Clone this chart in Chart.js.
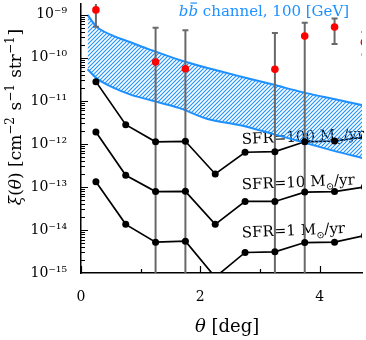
<!DOCTYPE html>
<html>
<head>
<meta charset="utf-8">
<script src="https://cdn.jsdelivr.net/npm/chart.js@4.4.0/dist/chart.umd.min.js"></script>
<style>
html, body { margin: 0; padding: 0; background: #fff; overflow: hidden; }
#wrap { width: 366px; height: 340px; position: relative; }
</style>
</head>
<body>
<div id="wrap"><canvas id="chart"></canvas></div>
<script>
const BLUE = "rgb(30,144,255)";
const GREY = "rgb(105,105,105)";

// model curves, one point every 0.5 deg
const THETA = [0.25, 0.75, 1.25, 1.75, 2.25, 2.75, 3.25, 3.75, 4.25, 4.75];
const SFR_100 = [2.8e-11, 2.8e-12, 1.12e-12, 1.15e-12, 2.0e-13, 6.4e-13, 6.6e-13, 1.12e-12, 1.17e-12, 1.45e-12];
const SFR_10 = [1.9e-12, 1.86e-13, 7.8e-14, 7.9e-14, 1.35e-14, 4.6e-14, 4.6e-14, 7.6e-14, 7.8e-14, 1.0e-13];
const SFR_1 = [1.32e-13, 1.35e-14, 5.2e-15, 5.5e-15, 8.0e-16, 3.0e-15, 3.1e-15, 5.1e-15, 5.2e-15, 7.4e-15];

// measured points with error bars (lower end off the plot where it runs to the axis)
const DATA_THETA = [0.25, 1.25, 1.75, 3.25, 3.75, 4.25, 4.75];
const DATA_XI = [1.3e-9, 8.0e-11, 5.6e-11, 5.4e-11, 3.2e-10, 5.2e-10, 2.3e-10];
const DATA_XI_HI = [5e-9, 5.0e-10, 4.4e-10, 3.8e-10, 6.5e-10, 8.2e-10, 4.0e-10];
const DATA_XI_LO = [5.3e-10, 1e-16, 1e-16, 1e-16, 1e-16, 2.1e-10, 1.2e-10];

// bb channel band, 100 GeV
const BAND_THETA = [0.11, 0.28, 0.55, 0.83, 1.10, 1.65, 2.12, 2.67, 3.22, 3.69, 4.24, 4.74];
const BAND_HI = [1.0e-9, 5.0e-10, 3.2e-10, 2.3e-10, 1.66e-10, 8.9e-11, 5.8e-11, 3.7e-11, 2.4e-11, 1.62e-11, 1.1e-11, 7.8e-12];
const BAND_LO = [5.4e-11, 3.2e-11, 2.0e-11, 1.4e-11, 1.1e-11, 6.8e-12, 3.8e-12, 2.7e-12, 1.7e-12, 1.12e-12, 6.9e-13, 4.6e-13];

// axes
const X_MIN = 0, X_MAX = 4.71;
const Y_MIN = 1e-15, Y_MAX = 1.784e-9;
const X_MAJOR = [0, 2, 4];
const X_MINOR = [1, 3];
const Y_EXPONENTS = [-15, -14, -13, -12, -11, -10, -9];

// labels placed in data coordinates
const SFR_LABELS = [
    { text: "SFR=100 ", theta: 2.7, xi: 1.0e-12 },
    { text: "SFR=10 ", theta: 2.7, xi: 8.8e-14 },
    { text: "SFR=1 ", theta: 2.7, xi: 6.7e-15 },
];

const FONT = '"DejaVu Serif"';
const SUP = { "-": "\u207B", "0": "\u2070", "1": "\u00B9", "2": "\u00B2", "3": "\u00B3", "4": "\u2074",
    "5": "\u2075", "6": "\u2076", "7": "\u2077", "8": "\u2078", "9": "\u2079" };

function toSup(s) {
    return s.split("").map(c => SUP[c]).join("");
}

function xy(arrX, arrY) {
    return arrX.map((x, i) => ({ x: x, y: arrY[i] }));
}

// draw a run of text pieces (italic / superscript / subscript) at x,y rotated by angle
function drawRuns(ctx, x, y, runs, size, angle, color, align) {
    const pieces = runs.map(r => {
        const s = (r.sup || r.sub) ? Math.round(size * 0.68) : size;
        const font = (r.it ? "italic " : "") + s + "px " + FONT;
        ctx.font = font;
        return { r: r, s: s, font: font, w: ctx.measureText(r.t).width + (r.gap || 0) };
    });
    const total = pieces.reduce((a, p) => a + p.w, 0);
    ctx.save();
    ctx.translate(x, y);
    ctx.rotate(angle);
    ctx.fillStyle = color;
    ctx.textBaseline = "alphabetic";
    ctx.textAlign = "left";
    let cx = align === "center" ? -total / 2 : 0;
    pieces.forEach(p => {
        ctx.font = p.font;
        const dy = p.r.sup ? -size * 0.42 : p.r.sub ? size * 0.28 : 0;
        ctx.fillText(p.r.t, cx, dy);
        if (p.r.bar) {
            ctx.fillRect(cx + 2, dy - p.s * 0.9, p.w - 3, 1.2);
        }
        cx += p.w;
    });
    ctx.restore();
}

const BAND_INDEX = 1;

const errorBars = {
    id: "errorBars",
    afterDatasetDraw(chart, args) {
        // drawn right after the band, below the black points and red points
        if (args.index !== BAND_INDEX) return;
        const { ctx, chartArea: a, scales: { x, y } } = chart;
        ctx.save();
        ctx.beginPath();
        ctx.rect(a.left, a.top, a.width, a.height);
        ctx.clip();
        ctx.strokeStyle = GREY;
        ctx.lineWidth = 2;
        DATA_THETA.forEach((t, i) => {
            const px = x.getPixelForValue(t);
            const top = y.getPixelForValue(DATA_XI_HI[i]);
            const bot = y.getPixelForValue(DATA_XI_LO[i]);
            ctx.beginPath();
            ctx.moveTo(px, top); ctx.lineTo(px, bot);
            ctx.moveTo(px - 3, top); ctx.lineTo(px + 3, top);
            ctx.moveTo(px - 3, bot); ctx.lineTo(px + 3, bot);
            ctx.stroke();
        });
        ctx.restore();
    }
};

const annotations = {
    id: "annotations",
    beforeDatasetsDraw(chart) {
        const { ctx, scales: { x, y } } = chart;
        const angle = -2.5 * Math.PI / 180;
        SFR_LABELS.forEach(l => {
            drawRuns(ctx, x.getPixelForValue(l.theta), y.getPixelForValue(l.xi), [
                { t: l.text }, { t: "M" }, { t: "\u2299", sub: 1 }, { t: "/yr" }
            ], 15, angle, "#000");
        });
    },
    afterDraw(chart) {
        const { ctx, chartArea: a, scales: { x, y } } = chart;
        drawRuns(ctx, x.getPixelForValue(1.64), y.getPixelForValue(9.4e-10), [
            { t: "b", it: 1 }, { t: "b", it: 1, bar: 1 }, { t: " channel, 100 [GeV]" }
        ], 15, 0, BLUE);

        // axis titles
        drawRuns(ctx, x.getPixelForValue(2.45), 332, [
            { t: "\u03B8", it: 1 }, { t: " [deg]" }
        ], 18, 0, "#000", "center");
        drawRuns(ctx, 21, 117, [
            { t: "\u03BE", it: 1 }, { t: "(" }, { t: "\u03B8", it: 1 }, { t: ") [cm" },
            { t: "\u22122", sup: 1, gap: 1 }, { t: " s" }, { t: "\u22121", sup: 1, gap: 1 },
            { t: " str" }, { t: "\u22121", sup: 1, gap: 1 }, { t: "]" }
        ], 17, -Math.PI / 2, "#000", "center");

        // inward tick marks
        ctx.save();
        ctx.strokeStyle = "#000";
        ctx.lineWidth = 1.2;
        ctx.beginPath();
        Y_EXPONENTS.forEach(e => {
            for (let m = 1; m <= 9; m++) {
                const py = Math.round(y.getPixelForValue(m * Math.pow(10, e))) + 0.5;
                if (py < a.top || py > a.bottom) continue;
                ctx.moveTo(a.left, py);
                ctx.lineTo(a.left + (m === 1 ? 7 : 4), py);
            }
        });
        X_MAJOR.concat(X_MINOR).forEach(v => {
            const px = Math.round(x.getPixelForValue(v)) + 0.5;
            ctx.moveTo(px, a.bottom);
            ctx.lineTo(px, a.bottom - (X_MAJOR.includes(v) ? 7 : 4));
        });
        ctx.stroke();
        ctx.restore();
    }
};

// "/" hatching, a thin diagonal every 4 px
function makeHatch(canvas) {
    const s = 4;
    const c = document.createElement("canvas");
    c.width = s; c.height = s;
    const g = c.getContext("2d");
    g.strokeStyle = BLUE;
    g.lineWidth = 1.1;
    g.beginPath();
    g.moveTo(0, s); g.lineTo(s, 0);
    g.moveTo(-1, 1); g.lineTo(1, -1);
    g.moveTo(s - 1, s + 1); g.lineTo(s + 1, s - 1);
    g.stroke();
    return canvas.getContext("2d").createPattern(c, "repeat");
}

Chart.defaults.font.family = FONT;
Chart.defaults.color = "#000";

const canvas = document.getElementById("chart");

function curveLine(values) {
    return {
        data: xy(THETA, values),
        borderColor: "#000",
        backgroundColor: "#000",
        borderWidth: 1.7,
        pointRadius: 0,
        tension: 0,
        fill: false,
        order: 5,
        clip: 0
    };
}

function curvePoints(values) {
    return {
        data: xy(THETA, values),
        showLine: false,
        backgroundColor: "#000",
        borderColor: "#000",
        pointRadius: 3.5,
        pointBorderWidth: 0,
        fill: false,
        order: 1,
        clip: 0
    };
}

// higher order is painted first:
// black lines, band, error bars, black points, red points
const chart = new Chart(canvas, {
    type: "line",
    data: {
        datasets: [
            {
                data: xy(DATA_THETA, DATA_XI),
                showLine: false,
                backgroundColor: "rgb(255,0,0)",
                borderColor: "rgb(255,0,0)",
                pointRadius: 3.8,
                pointBorderWidth: 0,
                fill: false,
                order: 0,
                clip: 0
            },
            {
                data: xy(BAND_THETA, BAND_HI),
                borderColor: BLUE,
                borderWidth: 2,
                backgroundColor: makeHatch(canvas),
                fill: "+1",
                pointRadius: 0,
                tension: 0.3,
                order: 3,
                clip: 0
            },
            {
                data: xy(BAND_THETA, BAND_LO),
                borderColor: BLUE,
                borderWidth: 2,
                fill: false,
                pointRadius: 0,
                tension: 0.3,
                order: 4,
                clip: 0
            },
            curvePoints(SFR_100),
            curvePoints(SFR_10),
            curvePoints(SFR_1),
            curveLine(SFR_100),
            curveLine(SFR_10),
            curveLine(SFR_1)
        ]
    },
    options: {
        responsive: true,
        maintainAspectRatio: false,
        devicePixelRatio: 1,
        animation: false,
        layout: { padding: 0 },
        plugins: {
            legend: { display: false },
            tooltip: { enabled: false }
        },
        scales: {
            x: {
                type: "linear",
                min: X_MIN,
                max: X_MAX,
                grid: { display: false },
                border: { display: true, color: "#000", width: 1.5 },
                ticks: {
                    font: { size: 14 },
                    padding: 8,
                    autoSkip: false,
                    maxRotation: 0,
                    callback: v => String(v)
                },
                afterBuildTicks: s => { s.ticks = X_MAJOR.map(v => ({ value: v })); },
                afterFit: s => { s.height = 67; s.paddingLeft = 0; s.paddingRight = 0; }
            },
            y: {
                type: "logarithmic",
                min: Y_MIN,
                max: Y_MAX,
                grid: { display: false },
                border: { display: true, color: "#000", width: 1.5 },
                ticks: {
                    font: { size: 14 },
                    padding: 6,
                    autoSkip: false,
                    callback: v => "10" + toSup(String(Math.round(Math.log10(v))))
                },
                afterBuildTicks: s => { s.ticks = Y_EXPONENTS.map(e => ({ value: Math.pow(10, e) })); },
                afterFit: s => { s.width = 81; s.paddingTop = 0; s.paddingBottom = 0; }
            }
        }
    },
    plugins: [errorBars, annotations]
});
</script>
</body>
</html>
